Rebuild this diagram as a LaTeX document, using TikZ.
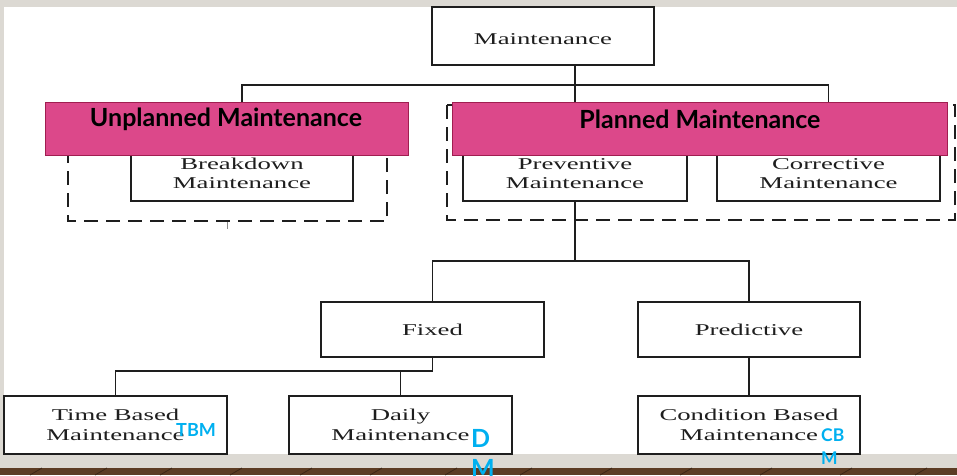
\documentclass[tikz,border=0pt]{standalone}
\usepackage{fontspec}
\setmainfont{Liberation Serif}
\newfontfamily\diag[FakeStretch=1.62]{Liberation Serif}
\newfontfamily\lbl{Lato}
\definecolor{bggray}{RGB}{220,217,211}
\definecolor{wood}{RGB}{92,60,36}
\definecolor{woodd}{RGB}{60,38,22}
\definecolor{pinkfill}{RGB}{220,72,138}
\definecolor{pinkline}{RGB}{160,30,80}
\definecolor{cyanlbl}{RGB}{0,176,240}
\definecolor{ink}{RGB}{30,30,30}
\tikzset{
  box/.style={draw=ink, line width=1.9pt, fill=white, inner sep=0pt, align=center,
    text=ink, font=\diag\fontsize{16.5}{19.5}\selectfont},
  wbox/.style={box, minimum width=222pt, minimum height=58pt},
  conn/.style={draw=ink, line width=1.9pt},
  dbox/.style={draw=ink, line width=1.6pt, dash pattern=on 14pt off 8pt},
  pinkbox/.style={draw=pinkline, line width=0.8pt, fill=pinkfill, inner sep=0pt,
    minimum height=53pt, text=black},
  pinktext/.style={inner sep=0pt, text=black, font=\lbl\bfseries\fontsize{25}{29}\selectfont},
  cyantext/.style={inner sep=0pt, text=cyanlbl, align=left, anchor=north west}
}
\begin{document}
\begin{tikzpicture}[x=1pt,y=-1pt]
\useasboundingbox (0,0) rectangle (957,475);
% background
\fill[bggray] (0,0) rectangle (957,475);
\fill[white] (4,7) rectangle (957,454);
\fill[wood] (0,468) rectangle (957,475);
\foreach \xx in {30,95,160,230,300,370,445,520,600,680,760,840,915}
  \draw[woodd, line width=0.8pt] (\xx,475) -- (\xx+12,468);
% dashed group boxes
\draw[dbox] (68,105) rectangle (387,221);
\draw[dbox] (447,105) rectangle (955,220);
\draw[black!45, line width=0.5pt] (227,222) -- (227,229);
% coordinates for junctions
\coordinate (j1) at (575,85);
\coordinate (j2) at (575,261);
\coordinate (j3) at (432.5,371);
% boxes
\node[wbox, text height=18pt, text depth=2pt] (top) at (543,36) {Maintenance};
\node[box, minimum width=222pt, minimum height=55pt] (brk) at (242,173.5) {Breakdown\\Maintenance};
\node[box, minimum width=224pt, minimum height=55pt] (prev) at (575,173.5) {Preventive\\Maintenance};
\node[box, minimum width=223pt, minimum height=55pt] (corr) at (828.5,173.5) {Corrective\\Maintenance};
\node[box, minimum width=223pt, minimum height=55pt] (fixed) at (432.5,329.5) {Fixed};
\node[box, minimum width=222pt, minimum height=55pt] (pred) at (749,329.5) {Predictive};
\node[wbox, minimum width=223pt] (tb) at (115.5,425) {Time Based\\Maintenance};
\node[wbox, minimum width=223pt] (daily) at (400.5,425) {Daily\\Maintenance};
\node[wbox] (cbm) at (749,425) {Condition Based\\Maintenance};
% connectors
\draw[conn] (top.south -| j1) -- (j1);
\draw[conn] (brk.north) |- (j1) -| (corr.north);
\draw[conn] (j1) -- (prev.north);
\draw[conn] (prev.south) -- (j2);
\draw[conn] (fixed.north) |- (j2) -| (pred.north);
\draw[conn] (fixed.south) -- (j3) -| (tb.north);
\draw[conn] (daily.north) |- (j3);
\draw[conn] (pred.south) -- (cbm.north);
% pink overlays
\node[pinkbox, minimum width=363pt] (unp) at (226.5,128.5) {};
\node[pinkbox, minimum width=495pt] (pln) at (699.5,128.5) {};
\node[pinktext] (unpt) at (226,119) {Unplanned Maintenance};
\node[pinktext] (plnt) at (700,119) {Planned Maintenance};
% cyan abbreviations
\node[cyantext, font=\lbl\bfseries\fontsize{18}{21}\selectfont] (tbm) at (176,423) {TBM};
\node[cyantext, font=\lbl\bfseries\fontsize{25}{30}\selectfont] (dm) at (471,429) {D\\M};
\node[cyantext, font=\lbl\bfseries\fontsize{17.5}{23}\selectfont] (cbml) at (821,428) {CB\\M};
\end{tikzpicture}
\end{document}
